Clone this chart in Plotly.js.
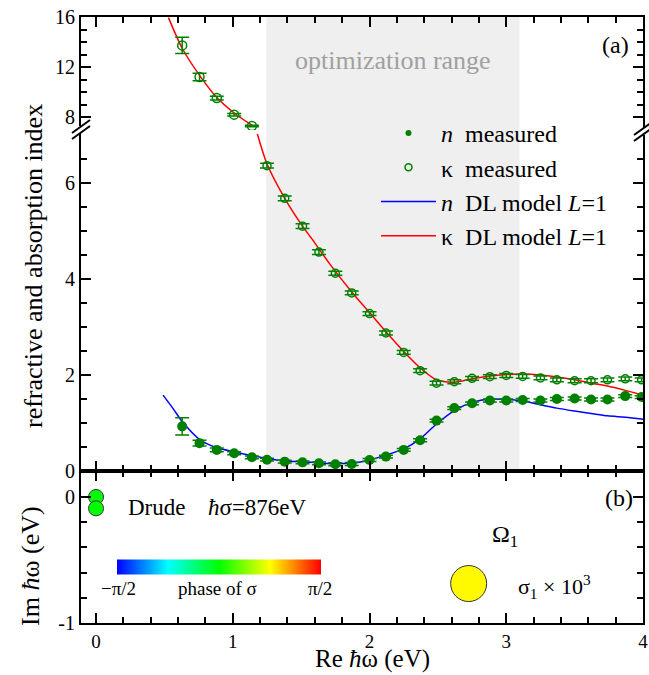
<!DOCTYPE html>
<html><head><meta charset="utf-8">
<script src="https://cdn.plot.ly/plotly-3.0.1.min.js"></script>
<style>html,body{margin:0;padding:0;background:#fff}</style>
</head><body>
<div id="chart" style="width:649px;height:675px"></div>
<script>
// ---------- data ----------
const photonEnergy = [0.63, 0.757, 0.883, 1.01, 1.14, 1.25, 1.38, 1.51, 1.63, 1.75, 1.87, 2.0, 2.12, 2.25, 2.37, 2.49, 2.62, 2.75, 2.88, 3.0, 3.12, 3.25, 3.37, 3.5, 3.62, 3.74, 3.87, 3.99];
const nMeasured = [0.93, 0.58, 0.44, 0.37, 0.285, 0.236, 0.195, 0.18, 0.16, 0.14, 0.145, 0.23, 0.30, 0.44, 0.64, 1.05, 1.31, 1.41, 1.47, 1.47, 1.48, 1.47, 1.50, 1.51, 1.49, 1.49, 1.56, 1.54];
const nError = [0.18, 0.06, 0.04, 0.03, 0.03, 0.03, 0.03, 0.03, 0.03, 0.03, 0.03, 0.03, 0.03, 0.03, 0.03, 0.03, 0.03, 0.03, 0.03, 0.03, 0.03, 0.03, 0.03, 0.03, 0.03, 0.03, 0.03, 0.03];
const kappaMeasured = [13.73, 11.2, 9.52, 8.19, 7.28, 6.36, 5.68, 5.10, 4.56, 4.12, 3.71, 3.28, 2.875, 2.47, 2.09, 1.83, 1.86, 1.93, 1.965, 1.99, 1.97, 1.94, 1.90, 1.88, 1.88, 1.90, 1.92, 1.90];
const kappaError = [0.65, 0.3, 0.15, 0.1, 0.06, 0.05, 0.05, 0.05, 0.05, 0.04, 0.04, 0.04, 0.04, 0.04, 0.04, 0.04, 0.04, 0.04, 0.04, 0.04, 0.04, 0.04, 0.04, 0.04, 0.04, 0.04, 0.04, 0.04];

const nModelEnergy = [0.49, 0.566, 0.63, 0.76, 0.88, 1.01, 1.14, 1.25, 1.38, 1.51, 1.63, 1.75, 1.87, 2.0, 2.12, 2.25, 2.37, 2.49, 2.62, 2.75, 2.88, 3.0, 3.12, 3.25, 3.37, 3.5, 3.62, 3.74, 3.87, 4.0];
const nModel = [1.58, 1.29, 1.03, 0.65, 0.49, 0.40, 0.32, 0.26, 0.21, 0.19, 0.17, 0.15, 0.165, 0.23, 0.33, 0.46, 0.67, 0.98, 1.26, 1.43, 1.50, 1.49, 1.46, 1.38, 1.31, 1.25, 1.20, 1.15, 1.12, 1.08];
const kappaModelEnergy = [0.53, 0.63, 0.757, 0.88, 1.01, 1.14, 1.18, 1.25, 1.38, 1.51, 1.58, 1.71, 1.87, 2.0, 2.12, 2.25, 2.37, 2.49, 2.62, 2.75, 2.88, 3.0, 3.12, 3.25, 3.37, 3.5, 3.62, 3.74, 3.87, 4.0];
const kappaModel = [15.95, 13.5, 11.33, 9.6, 8.32, 7.34, 7.02, 6.4, 5.68, 5.10, 4.83, 4.31, 3.73, 3.30, 2.90, 2.49, 2.15, 1.90, 1.85, 1.92, 1.98, 2.01, 2.02, 2.00, 1.96, 1.90, 1.83, 1.77, 1.68, 1.58];

const optimizationRange = [1.245, 3.097];

const poleRe = [0, 0, 2.725];
const poleIm = [0, -0.09, -0.687];
const polePhase = [0, 0, 0.8];
const poleStrengthPx = [15, 15, 36];

const xTickVals = [0, 1, 2, 3, 4];
const yLowTicks = [0, 2, 4, 6];
const yHighTicks = [8, 12, 16];
const yPoleTicks = [-1, 0];
const yPoleTickText = ['-1', '0'];

// ---------- layout helpers ----------
const W = 649, H = 675, ML = 81, MR = 6, MT = 17, MB = 52;
const PW = W - ML - MR, PH = H - MT - MB, YB = H - MB;
const px = X => (X - ML) / PW;
const py = Y => (YB - Y) / PH;
const FONT = 'Liberation Serif, Times New Roman, serif';
const BREAK_VALUE = 7.2;
const yPanelB = py(471), yBreak = py(130);

function split(xs, ys, upper) {
  const ox = [], oy = [], idx = [];
  xs.forEach((x, i) => { if ((ys[i] > BREAK_VALUE) === upper) { ox.push(x); oy.push(ys[i]); idx.push(i); } });
  return {x: ox, y: oy, idx: idx};
}
const kHi = split(photonEnergy, kappaMeasured, true);
const kLo = split(photonEnergy, kappaMeasured, false);
const kmHi = split(kappaModelEnergy, kappaModel, true);
const kmLo = split(kappaModelEnergy, kappaModel, false);

const GREEN = '#008000';
const traces = [
  {x: nModelEnergy, y: nModel, xaxis: 'x2', yaxis: 'y', mode: 'lines', line: {color: '#0000ff', width: 1.5, shape: 'spline', smoothing: 0.8}, showlegend: false},
  {x: kmLo.x, y: kmLo.y, xaxis: 'x2', yaxis: 'y', mode: 'lines', line: {color: '#ff0000', width: 1.5, shape: 'spline', smoothing: 0.8}, showlegend: false},
  {x: kmHi.x, y: kmHi.y, xaxis: 'x3', yaxis: 'y2', mode: 'lines', line: {color: '#ff0000', width: 1.5, shape: 'spline', smoothing: 0.8}, showlegend: false},
  {x: photonEnergy, y: nMeasured, xaxis: 'x2', yaxis: 'y', mode: 'markers', marker: {symbol: 'circle', size: 10, color: GREEN},
   error_y: {type: 'data', array: nError, color: GREEN, thickness: 1.5, width: 7}, showlegend: false},
  {x: kLo.x, y: kLo.y, xaxis: 'x2', yaxis: 'y', mode: 'markers', marker: {symbol: 'circle-open', size: 8, color: GREEN, line: {width: 1.5}},
   error_y: {type: 'data', array: kLo.idx.map(i => kappaError[i]), color: GREEN, thickness: 1.5, width: 7}, showlegend: false},
  {x: kHi.x, y: kHi.y, xaxis: 'x3', yaxis: 'y2', mode: 'markers', marker: {symbol: 'circle-open', size: 9, color: GREEN, line: {width: 1.5}},
   error_y: {type: 'data', array: kHi.idx.map(i => kappaError[i]), color: GREEN, thickness: 1.5, width: 7}, showlegend: false},
  // poles in the complex plane
  {x: poleRe, y: poleIm, xaxis: 'x', yaxis: 'y3', mode: 'markers', showlegend: false,
   marker: {size: poleStrengthPx, color: polePhase, cmin: -Math.PI / 2, cmax: Math.PI / 2,
     colorscale: [[0, '#0000ff'], [0.25, '#00ffff'], [0.5, '#00ff00'], [0.75, '#ffff00'], [1, '#ff0000']],
     line: {color: '#333333', width: 1}, opacity: 1,
     showscale: true,
     colorbar: {orientation: 'h', x: px(219), xanchor: 'center', y: py(566.5), yanchor: 'middle',
       len: 204, lenmode: 'pixels', thickness: 15, thicknessmode: 'pixels', outlinewidth: 0,
       showticklabels: false, ticks: '', xpad: 0, ypad: 0}}},
  // legend entries
  {x: [null], y: [null], xaxis: 'x2', yaxis: 'y', mode: 'markers', marker: {symbol: 'circle', size: 6, color: GREEN}, name: '<i>n</i>\u00a0 measured'},
  {x: [null], y: [null], xaxis: 'x2', yaxis: 'y', mode: 'markers', marker: {symbol: 'circle-open', size: 7, color: GREEN, line: {width: 1.5}}, name: '\u03ba\u00a0 measured'},
  {x: [null], y: [null], xaxis: 'x2', yaxis: 'y', mode: 'lines', line: {color: '#0000ff', width: 1.5}, name: '<i>n</i>\u00a0 DL model <i>L</i>=1'},
  {x: [null], y: [null], xaxis: 'x2', yaxis: 'y', mode: 'lines', line: {color: '#ff0000', width: 1.5}, name: '\u03ba\u00a0 DL model <i>L</i>=1'}
];

const axisCommon = {showline: true, linecolor: 'black', linewidth: 2, ticks: 'inside', ticklen: 10, tickwidth: 2, tickcolor: 'black',
  showgrid: false, zeroline: false, tickfont: {family: FONT, size: 20, color: 'black'}};
const xRange = [-0.11, 4.0];
const xMinor = {dtick: 0.2, tick0: 0, ticklen: 6, tickwidth: 2, tickcolor: 'black', ticks: 'inside'};

const layout = {
  width: W, height: H, margin: {l: ML, r: MR, t: MT, b: MB, pad: 0},
  paper_bgcolor: 'white', plot_bgcolor: 'rgba(0,0,0,0)',
  font: {family: FONT, size: 20, color: 'black'},
  showlegend: true,
  legend: {x: px(376), y: py(111), xanchor: 'left', yanchor: 'top', bgcolor: 'rgba(0,0,0,0)',
    font: {family: FONT, size: 24, color: 'black'}, itemwidth: 55, tracegroupgap: 0},
  xaxis: Object.assign({}, axisCommon, {anchor: 'y3', range: xRange, tickmode: 'array', tickvals: xTickVals, mirror: 'ticks', minor: xMinor, tickfont: {family: FONT, size: 19, color: 'black'}}),
  xaxis2: Object.assign({}, axisCommon, {anchor: 'y', matches: 'x', range: xRange, tickmode: 'array', tickvals: xTickVals, showticklabels: false, minor: xMinor}),
  xaxis3: Object.assign({}, axisCommon, {anchor: 'y2', side: 'top', matches: 'x', range: xRange, tickmode: 'array', tickvals: xTickVals, showticklabels: false, minor: xMinor}),
  yaxis: Object.assign({}, axisCommon, {anchor: 'x2', domain: [yPanelB, yBreak], range: [0, 7.104], mirror: 'ticks', tickmode: 'array', tickvals: yLowTicks,
    minor: {tickmode: 'array', tickvals: [0.5, 1, 1.5, 2.5, 3, 3.5, 4.5, 5, 5.5, 6.5], ticklen: 6, tickwidth: 2, tickcolor: 'black', ticks: 'inside'}}),
  yaxis2: Object.assign({}, axisCommon, {anchor: 'x3', domain: [yBreak, 1], range: [6.96, 16], mirror: 'ticks', tickmode: 'array', tickvals: yHighTicks,
    minor: {tickmode: 'array', tickvals: [9, 10, 11, 13, 14, 15], ticklen: 6, tickwidth: 2, tickcolor: 'black', ticks: 'inside'}}),
  yaxis3: Object.assign({}, axisCommon, {anchor: 'x', domain: [0, yPanelB], range: [-1, 0.206], mirror: 'ticks', tickmode: 'array', tickvals: yPoleTicks, ticktext: yPoleTickText,
    minor: {tickmode: 'array', tickvals: [-0.8, -0.6, -0.4, -0.2], ticklen: 6, tickwidth: 2, tickcolor: 'black', ticks: 'inside'}}),
  shapes: [
    {type: 'rect', xref: 'x2', yref: 'paper', x0: optimizationRange[0], x1: optimizationRange[1], y0: yPanelB, y1: 1, fillcolor: '#efefef', line: {width: 0}, layer: 'below'},
    // axis break marks
    {type: 'rect', xref: 'paper', yref: 'paper', x0: px(77), x1: px(85), y0: py(133), y1: py(126), fillcolor: 'white', line: {width: 0}},
    {type: 'line', xref: 'paper', yref: 'paper', x0: px(72), y0: py(139), x1: px(90), y1: py(126), line: {color: 'black', width: 2}},
    {type: 'line', xref: 'paper', yref: 'paper', x0: px(72), y0: py(133), x1: px(90), y1: py(120), line: {color: 'black', width: 2}},
    {type: 'rect', xref: 'paper', yref: 'paper', x0: px(639), x1: px(647), y0: py(135), y1: py(128), fillcolor: 'white', line: {width: 0}},
    {type: 'line', xref: 'paper', yref: 'paper', x0: px(634), y0: py(141), x1: px(652), y1: py(128), line: {color: 'black', width: 2}},
    {type: 'line', xref: 'paper', yref: 'paper', x0: px(634), y0: py(135), x1: px(652), y1: py(122), line: {color: 'black', width: 2}}
  ],
  annotations: [
    {text: 'refractive and absorption index', x: px(33), y: py(266), textangle: -90, font: {size: 26}},
    {text: 'Im <i>\u0127</i>\u03c9 (eV)', x: px(30), y: py(566), textangle: -90, font: {size: 26}},
    {text: 'Re <i>\u0127</i>\u03c9 (eV)', x: px(372), y: py(675), yanchor: 'bottom', font: {size: 25}},
    {text: 'optimization range', x: px(393), y: py(60), font: {size: 26, color: '#a0a0a0'}},
    {text: '(a)', x: px(615), y: py(45), font: {size: 24}},
    {text: '(b)', x: px(619), y: py(498), font: {size: 24}},
    {text: 'Drude', x: px(126), y: py(507), xanchor: 'left', font: {size: 23}},
    {text: '<i>\u0127</i>\u03c3=876eV', x: px(206), y: py(507), xanchor: 'left', font: {size: 23}},
    {text: '\u03a9<sub>1</sub>', x: px(490), y: py(536), xanchor: 'left', font: {size: 24}},
    {text: '\u03c3<sub>1</sub> \u00d7 10<sup>3</sup>', x: px(516), y: py(586), xanchor: 'left', font: {size: 22}},
    {text: '\u2212\u03c0/2', x: px(118), y: py(588), font: {size: 19}},
    {text: 'phase of \u03c3', x: px(217), y: py(588), font: {size: 19}},
    {text: '\u03c0/2', x: px(320), y: py(588), font: {size: 19}}
  ].map(a => Object.assign({xref: 'paper', yref: 'paper', showarrow: false, xanchor: 'center', yanchor: 'middle'}, a,
    {font: Object.assign({family: FONT, color: 'black'}, a.font)}))
};

Plotly.newPlot('chart', traces, layout, {displayModeBar: false, staticPlot: true});
</script>
</body></html>
